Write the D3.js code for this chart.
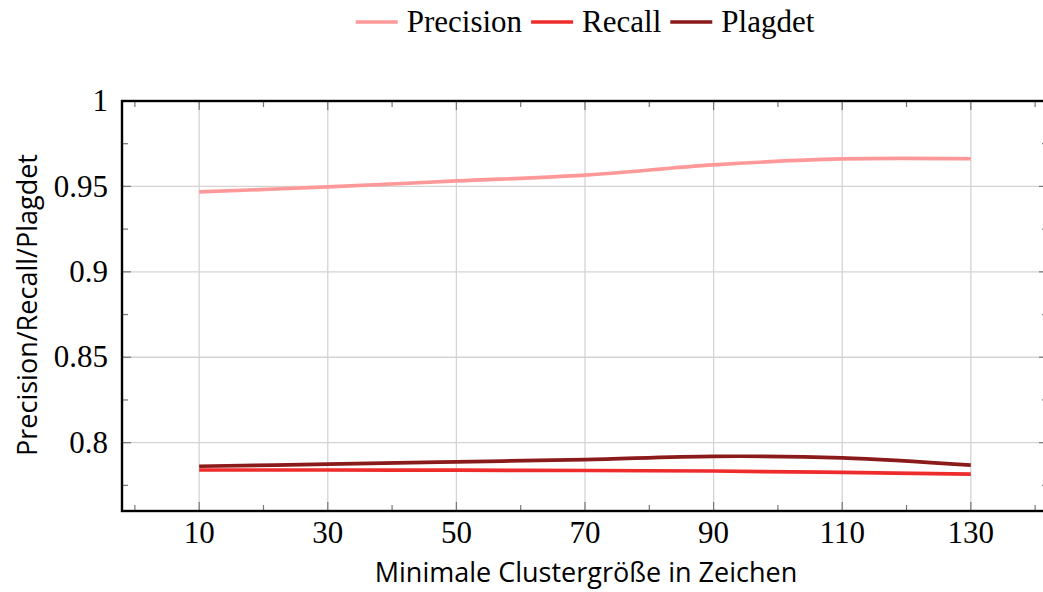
<!DOCTYPE html>
<html>
<head>
<meta charset="utf-8">
<style>
  body { margin: 0; background: #fff; }
  svg { display: block; }
</style>
</head>
<body>
<div id="chart"></div>
<script src="https://d3js.org/d3.v7.min.js"></script>
<script>
// data
var clusterSizes = [10, 30, 50, 70, 90, 110, 130];
var precision = [0.9468, 0.9497, 0.9532, 0.9566, 0.9626, 0.9661, 0.9662];
var recall    = [0.7840, 0.7840, 0.7839, 0.7837, 0.7834, 0.7826, 0.7816];
var plagdet   = [0.7862, 0.7874, 0.7888, 0.7901, 0.7920, 0.7911, 0.7868];
var seriesNames = ["Precision", "Recall", "Plagdet"];
var xTicks = [10, 30, 50, 70, 90, 110, 130];
var yTicks = [0.8, 0.85, 0.9, 0.95, 1];

var colors = ["#ff9999", "#ee2c2c", "#8b1a1a"];
var serif = "'Liberation Serif', 'DejaVu Serif', serif";
var sans = "'Open Sans', 'DejaVu Sans', sans-serif";

var W = 1043, H = 592;
var margin = {top: 101, right: -5, bottom: 81, left: 122};
var width = W - margin.left - margin.right;
var height = H - margin.top - margin.bottom;

var svg = d3.select("#chart").append("svg")
    .attr("width", W)
    .attr("height", H);

var g = svg.append("g").attr("transform", "translate(" + margin.left + "," + margin.top + ")");

var x = d3.scaleLinear().domain([-2, 142]).range([0, width]);
var y = d3.scaleLinear().domain([0.76, 1]).range([height, 0]);

// grid
g.append("g").selectAll("line").data(xTicks).enter().append("line")
    .attr("x1", function(d) { return x(d); }).attr("x2", function(d) { return x(d); })
    .attr("y1", 0).attr("y2", height)
    .attr("stroke", "#d4d4d4").attr("stroke-width", 1.3);
g.append("g").selectAll("line").data(yTicks).enter().append("line")
    .attr("x1", 0).attr("x2", width)
    .attr("y1", function(d) { return y(d); }).attr("y2", function(d) { return y(d); })
    .attr("stroke", "#d4d4d4").attr("stroke-width", 1.3);

// ticks (inside, on all four sides)
var xMinor = d3.range(0, 141, 20);
var yMinor = [0.775, 0.825, 0.875, 0.925, 0.975];
var tickColor = "#777";

function xTickMarks(vals, len) {
  [0, height].forEach(function(base) {
    var dir = base === 0 ? 1 : -1;
    g.append("g").selectAll("line").data(vals).enter().append("line")
      .attr("x1", function(d) { return x(d); }).attr("x2", function(d) { return x(d); })
      .attr("y1", base).attr("y2", base + dir * len)
      .attr("stroke", tickColor).attr("stroke-width", 1.2);
  });
}
function yTickMarks(vals, len) {
  [0, width].forEach(function(base) {
    var dir = base === 0 ? 1 : -1;
    g.append("g").selectAll("line").data(vals).enter().append("line")
      .attr("y1", function(d) { return y(d); }).attr("y2", function(d) { return y(d); })
      .attr("x1", base).attr("x2", base + dir * len)
      .attr("stroke", tickColor).attr("stroke-width", 1.2);
  });
}
xTickMarks(xTicks, 9);
xTickMarks(xMinor, 6);
yTickMarks(yTicks, 9);
yTickMarks(yMinor, 6);

// lines
var data = [precision, recall, plagdet];
var line = d3.line()
    .x(function(d, i) { return x(clusterSizes[i]); })
    .y(function(d) { return y(d); })
    .curve(d3.curveCatmullRom.alpha(0.5));

g.append("g").selectAll("path").data(data).enter().append("path")
    .attr("d", line)
    .attr("fill", "none")
    .attr("stroke", function(d, i) { return colors[i]; })
    .attr("stroke-width", 3.7);

// frame
g.append("rect")
    .attr("x", 0).attr("y", 0).attr("width", width).attr("height", height)
    .attr("fill", "none").attr("stroke", "#000").attr("stroke-width", 2.4);

// tick labels
g.append("g").selectAll("text").data(xTicks).enter().append("text")
    .attr("x", function(d) { return x(d); })
    .attr("y", height + 32)
    .attr("text-anchor", "middle")
    .style("font-family", serif).style("font-size", "31px")
    .text(function(d) { return d; });

g.append("g").selectAll("text").data(yTicks).enter().append("text")
    .attr("x", -14)
    .attr("y", function(d) { return y(d); })
    .attr("dy", "0.33em")
    .attr("text-anchor", "end")
    .style("font-family", serif).style("font-size", "31px")
    .text(function(d) { return d3.format("")(d); });

// axis labels
svg.append("text")
    .attr("x", 586).attr("y", 582)
    .attr("text-anchor", "middle")
    .style("font-family", sans).style("font-size", "27px")
    .text("Minimale Clustergröße in Zeichen");

svg.append("text")
    .attr("transform", "translate(37," + 305 + ") rotate(-90)")
    .attr("text-anchor", "middle")
    .style("font-family", sans).style("font-size", "27px")
    .text("Precision/Recall/Plagdet");

// legend, laid out in a row and centred over the plot
var legend = svg.append("g").attr("transform", "translate(0,22)");
var items = legend.selectAll("g").data(seriesNames).enter().append("g");
items.append("line")
    .attr("x1", 0).attr("x2", 42).attr("y1", 0).attr("y2", 0)
    .attr("stroke", function(d, i) { return colors[i]; })
    .attr("stroke-width", 3.7);
items.append("text")
    .attr("x", 51).attr("y", 0).attr("dy", "0.33em")
    .style("font-family", serif).style("font-size", "31px")
    .text(function(d) { return d; });

var offsets = [], cursor = 0;
items.each(function() {
  offsets.push(cursor);
  cursor += 51 + d3.select(this).select("text").node().getComputedTextLength() + 9;
});
var total = cursor - 9;
var start = 585 - total / 2;
items.attr("transform", function(d, i) { return "translate(" + (start + offsets[i]) + ",0)"; });
</script>
</body>
</html>
